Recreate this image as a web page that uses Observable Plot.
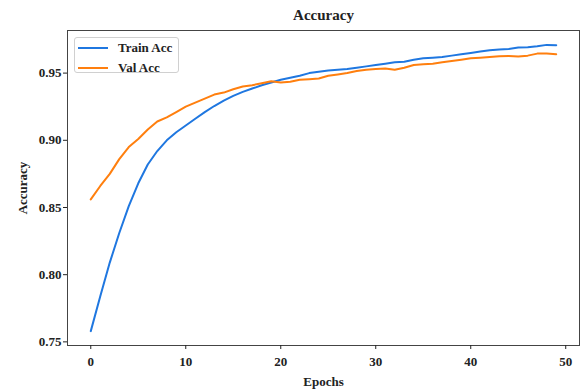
<!DOCTYPE html>
<html><head><meta charset="utf-8">
<script src="https://cdn.jsdelivr.net/npm/d3@7"></script>
<script src="https://cdn.jsdelivr.net/npm/@observablehq/plot@0.6"></script>
<style>
body{margin:0;background:#fff;}
#wrap{position:relative;width:583px;height:390px;}
#legend{position:absolute;left:74px;top:37px;width:105px;height:36px;box-sizing:border-box;border:1px solid #d0d0d0;border-radius:3px;background:rgba(255,255,255,0.85);font:bold 13px "Liberation Serif",serif;color:#222;}
.row{position:absolute;left:3px;height:16px;display:flex;align-items:center;}
.sw{display:inline-block;width:30px;height:2px;margin-right:10px;}
</style>
</head><body>
<div id="wrap"><div id="chart"></div>
<div id="legend"></div></div>
<script>
const epochs = [0,1,2,3,4,5,6,7,8,9,10,11,12,13,14,15,16,17,18,19,20,21,22,23,24,25,26,27,28,29,30,31,32,33,34,35,36,37,38,39,40,41,42,43,44,45,46,47,48,49];
const trainAcc = [0.758,0.784,0.809,0.831,0.851,0.868,0.882,0.892,0.900,0.906,0.911,0.916,0.921,0.9255,0.9295,0.933,0.936,0.9385,0.941,0.943,0.945,0.9465,0.948,0.950,0.951,0.952,0.9525,0.953,0.954,0.955,0.956,0.957,0.958,0.9585,0.960,0.961,0.9615,0.962,0.963,0.964,0.965,0.966,0.967,0.9675,0.968,0.969,0.9693,0.970,0.971,0.9708];
const valAcc = [0.856,0.866,0.875,0.886,0.895,0.901,0.908,0.914,0.917,0.921,0.925,0.928,0.931,0.934,0.9355,0.938,0.940,0.941,0.9425,0.944,0.943,0.9435,0.945,0.9455,0.946,0.948,0.949,0.950,0.9515,0.9525,0.953,0.9535,0.9525,0.954,0.956,0.9565,0.957,0.958,0.959,0.960,0.961,0.9615,0.962,0.9625,0.9627,0.9623,0.963,0.9645,0.9645,0.964];
const seriesNames = ["Train Acc","Val Acc"];
const seriesColors = ["#1f77e0","#ff7f0e"];
const xTicks = [0,10,20,30,40,50];
const yTicks = [0.75,0.80,0.85,0.90,0.95];
const titleText = "Accuracy";
const xLabel = "Epochs";
const yLabel = "Accuracy";

const data = [];
epochs.forEach((e,i)=>{
  data.push({epoch:e, acc:trainAcc[i], series:seriesNames[0]});
});
epochs.forEach((e,i)=>{
  data.push({epoch:e, acc:valAcc[i], series:seriesNames[1]});
});

const chart = Plot.plot({
  width:583, height:390,
  marginLeft:67, marginRight:4, marginTop:30, marginBottom:45,
  style:{fontFamily:"'Liberation Serif', serif", fontWeight:"bold", fontSize:"13px", color:"#222", background:"white", overflow:"visible"},
  x:{domain:[-2.45,51.45]},
  y:{domain:[0.7473,0.9817]},
  color:{domain:seriesNames, range:seriesColors},
  marks:[
    Plot.frame({stroke:"#444", strokeWidth:1}),
    Plot.axisX({ticks:xTicks, tickSize:4, tickPadding:7, label:xLabel, labelAnchor:"center", labelOffset:40, labelArrow:"none"}),
    Plot.axisY({ticks:yTicks, tickSize:4, tickPadding:2, tickFormat:d3.format(".2f"), label:yLabel, labelAnchor:"center", labelOffset:50, labelArrow:"none"}),
    Plot.line(data, {x:"epoch", y:"acc", z:"series", stroke:"series", strokeWidth:2}),
    Plot.text([titleText], {text:d=>d, frameAnchor:"top", lineAnchor:"middle", dy:-15, fontSize:15, fontWeight:"bold"})
  ]
});
document.getElementById("chart").appendChild(chart);

const legend = document.getElementById("legend");
seriesNames.forEach((name,i)=>{
  const row = document.createElement("div");
  row.className = "row";
  row.style.top = (2 + i*20) + "px";
  const sw = document.createElement("span");
  sw.className = "sw";
  sw.style.background = seriesColors[i];
  row.appendChild(sw);
  row.appendChild(document.createTextNode(name));
  legend.appendChild(row);
});
</script>
</body></html>
